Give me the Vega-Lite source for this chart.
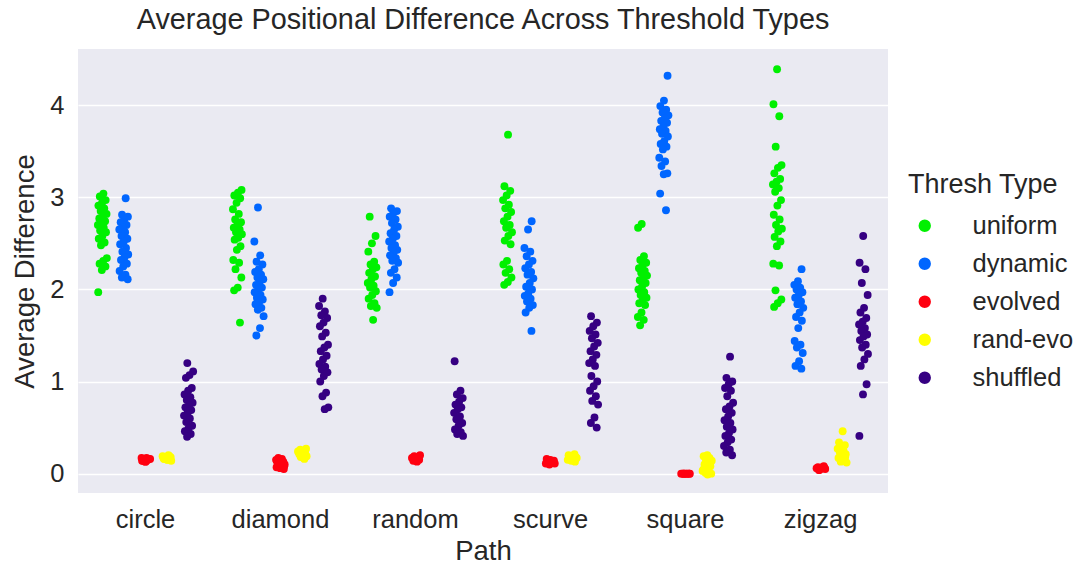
{
"$schema":"https://vega.github.io/schema/vega-lite/v6.json",
"autosize":"none",
"padding":{"left":78,"top":49,"right":192,"bottom":72},
"width":810,
"height":444,
"title":{"text":"Average Positional Difference Across Threshold Types","fontSize":28.8,"fontWeight":"normal","color":"#262626","offset":14,"anchor":"middle"},
"data":{"values":[
{"path":"circle","type":"uniform","diff":3.04},{"path":"circle","type":"uniform","diff":3.01},{"path":"circle","type":"uniform","diff":2.97},{"path":"circle","type":"uniform","diff":2.94},{"path":"circle","type":"uniform","diff":2.91},{"path":"circle","type":"uniform","diff":2.88},{"path":"circle","type":"uniform","diff":2.85},{"path":"circle","type":"uniform","diff":2.82},{"path":"circle","type":"uniform","diff":2.79},{"path":"circle","type":"uniform","diff":2.77},{"path":"circle","type":"uniform","diff":2.74},{"path":"circle","type":"uniform","diff":2.72},{"path":"circle","type":"uniform","diff":2.70},{"path":"circle","type":"uniform","diff":2.67},{"path":"circle","type":"uniform","diff":2.64},{"path":"circle","type":"uniform","diff":2.62},{"path":"circle","type":"uniform","diff":2.58},{"path":"circle","type":"uniform","diff":2.55},{"path":"circle","type":"uniform","diff":2.51},{"path":"circle","type":"uniform","diff":2.48},{"path":"circle","type":"uniform","diff":2.34},{"path":"circle","type":"uniform","diff":2.31},{"path":"circle","type":"uniform","diff":2.28},{"path":"circle","type":"uniform","diff":2.25},{"path":"circle","type":"uniform","diff":2.21},{"path":"circle","type":"uniform","diff":1.97},
{"path":"circle","type":"dynamic","diff":2.99},{"path":"circle","type":"dynamic","diff":2.81},{"path":"circle","type":"dynamic","diff":2.79},{"path":"circle","type":"dynamic","diff":2.76},{"path":"circle","type":"dynamic","diff":2.73},{"path":"circle","type":"dynamic","diff":2.70},{"path":"circle","type":"dynamic","diff":2.67},{"path":"circle","type":"dynamic","diff":2.65},{"path":"circle","type":"dynamic","diff":2.62},{"path":"circle","type":"dynamic","diff":2.58},{"path":"circle","type":"dynamic","diff":2.55},{"path":"circle","type":"dynamic","diff":2.52},{"path":"circle","type":"dynamic","diff":2.49},{"path":"circle","type":"dynamic","diff":2.45},{"path":"circle","type":"dynamic","diff":2.41},{"path":"circle","type":"dynamic","diff":2.38},{"path":"circle","type":"dynamic","diff":2.35},{"path":"circle","type":"dynamic","diff":2.32},{"path":"circle","type":"dynamic","diff":2.28},{"path":"circle","type":"dynamic","diff":2.25},{"path":"circle","type":"dynamic","diff":2.20},{"path":"circle","type":"dynamic","diff":2.16},{"path":"circle","type":"dynamic","diff":2.13},{"path":"circle","type":"dynamic","diff":2.11},
{"path":"circle","type":"evolved","diff":0.13},{"path":"circle","type":"evolved","diff":0.14},{"path":"circle","type":"evolved","diff":0.15},{"path":"circle","type":"evolved","diff":0.15},{"path":"circle","type":"evolved","diff":0.16},{"path":"circle","type":"evolved","diff":0.17},{"path":"circle","type":"evolved","diff":0.14},{"path":"circle","type":"evolved","diff":0.16},{"path":"circle","type":"evolved","diff":0.13},{"path":"circle","type":"evolved","diff":0.17},{"path":"circle","type":"evolved","diff":0.15},{"path":"circle","type":"evolved","diff":0.16},
{"path":"circle","type":"rand-evo","diff":0.14},{"path":"circle","type":"rand-evo","diff":0.15},{"path":"circle","type":"rand-evo","diff":0.16},{"path":"circle","type":"rand-evo","diff":0.17},{"path":"circle","type":"rand-evo","diff":0.18},{"path":"circle","type":"rand-evo","diff":0.19},{"path":"circle","type":"rand-evo","diff":0.20},{"path":"circle","type":"rand-evo","diff":0.16},{"path":"circle","type":"rand-evo","diff":0.18},{"path":"circle","type":"rand-evo","diff":0.15},{"path":"circle","type":"rand-evo","diff":0.17},{"path":"circle","type":"rand-evo","diff":0.19},
{"path":"circle","type":"shuffled","diff":1.20},{"path":"circle","type":"shuffled","diff":1.11},{"path":"circle","type":"shuffled","diff":1.07},{"path":"circle","type":"shuffled","diff":1.04},{"path":"circle","type":"shuffled","diff":0.93},{"path":"circle","type":"shuffled","diff":0.90},{"path":"circle","type":"shuffled","diff":0.86},{"path":"circle","type":"shuffled","diff":0.83},{"path":"circle","type":"shuffled","diff":0.80},{"path":"circle","type":"shuffled","diff":0.77},{"path":"circle","type":"shuffled","diff":0.74},{"path":"circle","type":"shuffled","diff":0.72},{"path":"circle","type":"shuffled","diff":0.69},{"path":"circle","type":"shuffled","diff":0.66},{"path":"circle","type":"shuffled","diff":0.63},{"path":"circle","type":"shuffled","diff":0.60},{"path":"circle","type":"shuffled","diff":0.56},{"path":"circle","type":"shuffled","diff":0.52},{"path":"circle","type":"shuffled","diff":0.49},{"path":"circle","type":"shuffled","diff":0.46},{"path":"circle","type":"shuffled","diff":0.43},{"path":"circle","type":"shuffled","diff":0.40},
{"path":"diamond","type":"uniform","diff":3.08},{"path":"diamond","type":"uniform","diff":3.05},{"path":"diamond","type":"uniform","diff":3.02},{"path":"diamond","type":"uniform","diff":2.99},{"path":"diamond","type":"uniform","diff":2.94},{"path":"diamond","type":"uniform","diff":2.87},{"path":"diamond","type":"uniform","diff":2.82},{"path":"diamond","type":"uniform","diff":2.76},{"path":"diamond","type":"uniform","diff":2.73},{"path":"diamond","type":"uniform","diff":2.70},{"path":"diamond","type":"uniform","diff":2.67},{"path":"diamond","type":"uniform","diff":2.65},{"path":"diamond","type":"uniform","diff":2.62},{"path":"diamond","type":"uniform","diff":2.60},{"path":"diamond","type":"uniform","diff":2.56},{"path":"diamond","type":"uniform","diff":2.54},{"path":"diamond","type":"uniform","diff":2.47},{"path":"diamond","type":"uniform","diff":2.43},{"path":"diamond","type":"uniform","diff":2.32},{"path":"diamond","type":"uniform","diff":2.29},{"path":"diamond","type":"uniform","diff":2.22},{"path":"diamond","type":"uniform","diff":2.13},{"path":"diamond","type":"uniform","diff":2.02},{"path":"diamond","type":"uniform","diff":1.99},{"path":"diamond","type":"uniform","diff":1.64},
{"path":"diamond","type":"dynamic","diff":2.89},{"path":"diamond","type":"dynamic","diff":2.52},{"path":"diamond","type":"dynamic","diff":2.37},{"path":"diamond","type":"dynamic","diff":2.30},{"path":"diamond","type":"dynamic","diff":2.27},{"path":"diamond","type":"dynamic","diff":2.22},{"path":"diamond","type":"dynamic","diff":2.19},{"path":"diamond","type":"dynamic","diff":2.16},{"path":"diamond","type":"dynamic","diff":2.13},{"path":"diamond","type":"dynamic","diff":2.11},{"path":"diamond","type":"dynamic","diff":2.08},{"path":"diamond","type":"dynamic","diff":2.05},{"path":"diamond","type":"dynamic","diff":2.02},{"path":"diamond","type":"dynamic","diff":2.00},{"path":"diamond","type":"dynamic","diff":1.97},{"path":"diamond","type":"dynamic","diff":1.94},{"path":"diamond","type":"dynamic","diff":1.91},{"path":"diamond","type":"dynamic","diff":1.89},{"path":"diamond","type":"dynamic","diff":1.86},{"path":"diamond","type":"dynamic","diff":1.84},{"path":"diamond","type":"dynamic","diff":1.80},{"path":"diamond","type":"dynamic","diff":1.78},{"path":"diamond","type":"dynamic","diff":1.71},{"path":"diamond","type":"dynamic","diff":1.58},{"path":"diamond","type":"dynamic","diff":1.50},
{"path":"diamond","type":"evolved","diff":0.05},{"path":"diamond","type":"evolved","diff":0.06},{"path":"diamond","type":"evolved","diff":0.07},{"path":"diamond","type":"evolved","diff":0.08},{"path":"diamond","type":"evolved","diff":0.09},{"path":"diamond","type":"evolved","diff":0.10},{"path":"diamond","type":"evolved","diff":0.11},{"path":"diamond","type":"evolved","diff":0.12},{"path":"diamond","type":"evolved","diff":0.13},{"path":"diamond","type":"evolved","diff":0.14},{"path":"diamond","type":"evolved","diff":0.15},{"path":"diamond","type":"evolved","diff":0.16},{"path":"diamond","type":"evolved","diff":0.17},{"path":"diamond","type":"evolved","diff":0.08},{"path":"diamond","type":"evolved","diff":0.11},{"path":"diamond","type":"evolved","diff":0.14},
{"path":"diamond","type":"rand-evo","diff":0.16},{"path":"diamond","type":"rand-evo","diff":0.18},{"path":"diamond","type":"rand-evo","diff":0.19},{"path":"diamond","type":"rand-evo","diff":0.20},{"path":"diamond","type":"rand-evo","diff":0.21},{"path":"diamond","type":"rand-evo","diff":0.22},{"path":"diamond","type":"rand-evo","diff":0.23},{"path":"diamond","type":"rand-evo","diff":0.24},{"path":"diamond","type":"rand-evo","diff":0.25},{"path":"diamond","type":"rand-evo","diff":0.26},{"path":"diamond","type":"rand-evo","diff":0.27},{"path":"diamond","type":"rand-evo","diff":0.20},{"path":"diamond","type":"rand-evo","diff":0.23},{"path":"diamond","type":"rand-evo","diff":0.18},
{"path":"diamond","type":"shuffled","diff":1.90},{"path":"diamond","type":"shuffled","diff":1.82},{"path":"diamond","type":"shuffled","diff":1.76},{"path":"diamond","type":"shuffled","diff":1.72},{"path":"diamond","type":"shuffled","diff":1.69},{"path":"diamond","type":"shuffled","diff":1.64},{"path":"diamond","type":"shuffled","diff":1.60},{"path":"diamond","type":"shuffled","diff":1.53},{"path":"diamond","type":"shuffled","diff":1.49},{"path":"diamond","type":"shuffled","diff":1.40},{"path":"diamond","type":"shuffled","diff":1.37},{"path":"diamond","type":"shuffled","diff":1.33},{"path":"diamond","type":"shuffled","diff":1.28},{"path":"diamond","type":"shuffled","diff":1.24},{"path":"diamond","type":"shuffled","diff":1.19},{"path":"diamond","type":"shuffled","diff":1.16},{"path":"diamond","type":"shuffled","diff":1.13},{"path":"diamond","type":"shuffled","diff":1.10},{"path":"diamond","type":"shuffled","diff":1.06},{"path":"diamond","type":"shuffled","diff":1.00},{"path":"diamond","type":"shuffled","diff":0.88},{"path":"diamond","type":"shuffled","diff":0.84},{"path":"diamond","type":"shuffled","diff":0.72},{"path":"diamond","type":"shuffled","diff":0.70},
{"path":"random","type":"uniform","diff":2.79},{"path":"random","type":"uniform","diff":2.58},{"path":"random","type":"uniform","diff":2.50},{"path":"random","type":"uniform","diff":2.41},{"path":"random","type":"uniform","diff":2.30},{"path":"random","type":"uniform","diff":2.27},{"path":"random","type":"uniform","diff":2.24},{"path":"random","type":"uniform","diff":2.22},{"path":"random","type":"uniform","diff":2.18},{"path":"random","type":"uniform","diff":2.14},{"path":"random","type":"uniform","diff":2.11},{"path":"random","type":"uniform","diff":2.07},{"path":"random","type":"uniform","diff":2.04},{"path":"random","type":"uniform","diff":2.02},{"path":"random","type":"uniform","diff":1.98},{"path":"random","type":"uniform","diff":1.94},{"path":"random","type":"uniform","diff":1.90},{"path":"random","type":"uniform","diff":1.85},{"path":"random","type":"uniform","diff":1.82},{"path":"random","type":"uniform","diff":1.80},{"path":"random","type":"uniform","diff":1.67},
{"path":"random","type":"dynamic","diff":2.88},{"path":"random","type":"dynamic","diff":2.85},{"path":"random","type":"dynamic","diff":2.83},{"path":"random","type":"dynamic","diff":2.79},{"path":"random","type":"dynamic","diff":2.76},{"path":"random","type":"dynamic","diff":2.72},{"path":"random","type":"dynamic","diff":2.68},{"path":"random","type":"dynamic","diff":2.65},{"path":"random","type":"dynamic","diff":2.61},{"path":"random","type":"dynamic","diff":2.58},{"path":"random","type":"dynamic","diff":2.55},{"path":"random","type":"dynamic","diff":2.52},{"path":"random","type":"dynamic","diff":2.48},{"path":"random","type":"dynamic","diff":2.45},{"path":"random","type":"dynamic","diff":2.43},{"path":"random","type":"dynamic","diff":2.40},{"path":"random","type":"dynamic","diff":2.37},{"path":"random","type":"dynamic","diff":2.34},{"path":"random","type":"dynamic","diff":2.31},{"path":"random","type":"dynamic","diff":2.29},{"path":"random","type":"dynamic","diff":2.22},{"path":"random","type":"dynamic","diff":2.18},{"path":"random","type":"dynamic","diff":2.13},{"path":"random","type":"dynamic","diff":2.07},{"path":"random","type":"dynamic","diff":1.97},
{"path":"random","type":"evolved","diff":0.13},{"path":"random","type":"evolved","diff":0.14},{"path":"random","type":"evolved","diff":0.15},{"path":"random","type":"evolved","diff":0.16},{"path":"random","type":"evolved","diff":0.17},{"path":"random","type":"evolved","diff":0.18},{"path":"random","type":"evolved","diff":0.19},{"path":"random","type":"evolved","diff":0.20},{"path":"random","type":"evolved","diff":0.15},{"path":"random","type":"evolved","diff":0.17},{"path":"random","type":"evolved","diff":0.18},{"path":"random","type":"evolved","diff":0.16},
{"path":"random","type":"shuffled","diff":1.22},{"path":"random","type":"shuffled","diff":0.90},{"path":"random","type":"shuffled","diff":0.86},{"path":"random","type":"shuffled","diff":0.82},{"path":"random","type":"shuffled","diff":0.78},{"path":"random","type":"shuffled","diff":0.75},{"path":"random","type":"shuffled","diff":0.72},{"path":"random","type":"shuffled","diff":0.70},{"path":"random","type":"shuffled","diff":0.66},{"path":"random","type":"shuffled","diff":0.62},{"path":"random","type":"shuffled","diff":0.59},{"path":"random","type":"shuffled","diff":0.55},{"path":"random","type":"shuffled","diff":0.52},{"path":"random","type":"shuffled","diff":0.48},{"path":"random","type":"shuffled","diff":0.45},{"path":"random","type":"shuffled","diff":0.43},{"path":"random","type":"shuffled","diff":0.41},
{"path":"scurve","type":"uniform","diff":3.68},{"path":"scurve","type":"uniform","diff":3.12},{"path":"scurve","type":"uniform","diff":3.07},{"path":"scurve","type":"uniform","diff":3.02},{"path":"scurve","type":"uniform","diff":2.97},{"path":"scurve","type":"uniform","diff":2.92},{"path":"scurve","type":"uniform","diff":2.88},{"path":"scurve","type":"uniform","diff":2.84},{"path":"scurve","type":"uniform","diff":2.79},{"path":"scurve","type":"uniform","diff":2.74},{"path":"scurve","type":"uniform","diff":2.70},{"path":"scurve","type":"uniform","diff":2.67},{"path":"scurve","type":"uniform","diff":2.62},{"path":"scurve","type":"uniform","diff":2.58},{"path":"scurve","type":"uniform","diff":2.53},{"path":"scurve","type":"uniform","diff":2.49},{"path":"scurve","type":"uniform","diff":2.31},{"path":"scurve","type":"uniform","diff":2.27},{"path":"scurve","type":"uniform","diff":2.22},{"path":"scurve","type":"uniform","diff":2.18},{"path":"scurve","type":"uniform","diff":2.13},{"path":"scurve","type":"uniform","diff":2.08},{"path":"scurve","type":"uniform","diff":2.05},
{"path":"scurve","type":"dynamic","diff":2.74},{"path":"scurve","type":"dynamic","diff":2.65},{"path":"scurve","type":"dynamic","diff":2.45},{"path":"scurve","type":"dynamic","diff":2.41},{"path":"scurve","type":"dynamic","diff":2.36},{"path":"scurve","type":"dynamic","diff":2.31},{"path":"scurve","type":"dynamic","diff":2.27},{"path":"scurve","type":"dynamic","diff":2.23},{"path":"scurve","type":"dynamic","diff":2.19},{"path":"scurve","type":"dynamic","diff":2.16},{"path":"scurve","type":"dynamic","diff":2.12},{"path":"scurve","type":"dynamic","diff":2.07},{"path":"scurve","type":"dynamic","diff":2.03},{"path":"scurve","type":"dynamic","diff":2.00},{"path":"scurve","type":"dynamic","diff":1.96},{"path":"scurve","type":"dynamic","diff":1.93},{"path":"scurve","type":"dynamic","diff":1.90},{"path":"scurve","type":"dynamic","diff":1.87},{"path":"scurve","type":"dynamic","diff":1.83},{"path":"scurve","type":"dynamic","diff":1.80},{"path":"scurve","type":"dynamic","diff":1.75},{"path":"scurve","type":"dynamic","diff":1.55},
{"path":"scurve","type":"evolved","diff":0.10},{"path":"scurve","type":"evolved","diff":0.11},{"path":"scurve","type":"evolved","diff":0.12},{"path":"scurve","type":"evolved","diff":0.13},{"path":"scurve","type":"evolved","diff":0.14},{"path":"scurve","type":"evolved","diff":0.15},{"path":"scurve","type":"evolved","diff":0.16},{"path":"scurve","type":"evolved","diff":0.12},{"path":"scurve","type":"evolved","diff":0.13},{"path":"scurve","type":"evolved","diff":0.11},{"path":"scurve","type":"evolved","diff":0.14},{"path":"scurve","type":"evolved","diff":0.13},
{"path":"scurve","type":"rand-evo","diff":0.13},{"path":"scurve","type":"rand-evo","diff":0.14},{"path":"scurve","type":"rand-evo","diff":0.15},{"path":"scurve","type":"rand-evo","diff":0.16},{"path":"scurve","type":"rand-evo","diff":0.17},{"path":"scurve","type":"rand-evo","diff":0.18},{"path":"scurve","type":"rand-evo","diff":0.19},{"path":"scurve","type":"rand-evo","diff":0.20},{"path":"scurve","type":"rand-evo","diff":0.21},{"path":"scurve","type":"rand-evo","diff":0.15},{"path":"scurve","type":"rand-evo","diff":0.17},{"path":"scurve","type":"rand-evo","diff":0.19},
{"path":"scurve","type":"shuffled","diff":1.71},{"path":"scurve","type":"shuffled","diff":1.64},{"path":"scurve","type":"shuffled","diff":1.60},{"path":"scurve","type":"shuffled","diff":1.55},{"path":"scurve","type":"shuffled","diff":1.51},{"path":"scurve","type":"shuffled","diff":1.47},{"path":"scurve","type":"shuffled","diff":1.42},{"path":"scurve","type":"shuffled","diff":1.38},{"path":"scurve","type":"shuffled","diff":1.33},{"path":"scurve","type":"shuffled","diff":1.29},{"path":"scurve","type":"shuffled","diff":1.24},{"path":"scurve","type":"shuffled","diff":1.20},{"path":"scurve","type":"shuffled","diff":1.17},{"path":"scurve","type":"shuffled","diff":1.06},{"path":"scurve","type":"shuffled","diff":1.00},{"path":"scurve","type":"shuffled","diff":0.95},{"path":"scurve","type":"shuffled","diff":0.90},{"path":"scurve","type":"shuffled","diff":0.84},{"path":"scurve","type":"shuffled","diff":0.79},{"path":"scurve","type":"shuffled","diff":0.75},{"path":"scurve","type":"shuffled","diff":0.61},{"path":"scurve","type":"shuffled","diff":0.55},{"path":"scurve","type":"shuffled","diff":0.50},
{"path":"square","type":"uniform","diff":2.71},{"path":"square","type":"uniform","diff":2.67},{"path":"square","type":"uniform","diff":2.36},{"path":"square","type":"uniform","diff":2.32},{"path":"square","type":"uniform","diff":2.29},{"path":"square","type":"uniform","diff":2.26},{"path":"square","type":"uniform","diff":2.23},{"path":"square","type":"uniform","diff":2.20},{"path":"square","type":"uniform","diff":2.18},{"path":"square","type":"uniform","diff":2.15},{"path":"square","type":"uniform","diff":2.13},{"path":"square","type":"uniform","diff":2.10},{"path":"square","type":"uniform","diff":2.07},{"path":"square","type":"uniform","diff":2.03},{"path":"square","type":"uniform","diff":2.00},{"path":"square","type":"uniform","diff":1.97},{"path":"square","type":"uniform","diff":1.94},{"path":"square","type":"uniform","diff":1.91},{"path":"square","type":"uniform","diff":1.89},{"path":"square","type":"uniform","diff":1.85},{"path":"square","type":"uniform","diff":1.83},{"path":"square","type":"uniform","diff":1.75},{"path":"square","type":"uniform","diff":1.70},{"path":"square","type":"uniform","diff":1.67},{"path":"square","type":"uniform","diff":1.61},
{"path":"square","type":"dynamic","diff":4.32},{"path":"square","type":"dynamic","diff":4.05},{"path":"square","type":"dynamic","diff":3.99},{"path":"square","type":"dynamic","diff":3.95},{"path":"square","type":"dynamic","diff":3.92},{"path":"square","type":"dynamic","diff":3.89},{"path":"square","type":"dynamic","diff":3.86},{"path":"square","type":"dynamic","diff":3.83},{"path":"square","type":"dynamic","diff":3.81},{"path":"square","type":"dynamic","diff":3.77},{"path":"square","type":"dynamic","diff":3.74},{"path":"square","type":"dynamic","diff":3.72},{"path":"square","type":"dynamic","diff":3.69},{"path":"square","type":"dynamic","diff":3.66},{"path":"square","type":"dynamic","diff":3.61},{"path":"square","type":"dynamic","diff":3.58},{"path":"square","type":"dynamic","diff":3.55},{"path":"square","type":"dynamic","diff":3.52},{"path":"square","type":"dynamic","diff":3.43},{"path":"square","type":"dynamic","diff":3.39},{"path":"square","type":"dynamic","diff":3.34},{"path":"square","type":"dynamic","diff":3.26},{"path":"square","type":"dynamic","diff":3.25},{"path":"square","type":"dynamic","diff":3.04},{"path":"square","type":"dynamic","diff":2.86},
{"path":"square","type":"evolved","diff":0.0},{"path":"square","type":"evolved","diff":0.0},{"path":"square","type":"evolved","diff":0.0},{"path":"square","type":"evolved","diff":0.0},{"path":"square","type":"evolved","diff":0.0},{"path":"square","type":"evolved","diff":0.0},{"path":"square","type":"evolved","diff":0.0},{"path":"square","type":"evolved","diff":0.0},{"path":"square","type":"evolved","diff":0.0},{"path":"square","type":"evolved","diff":0.0},
{"path":"square","type":"rand-evo","diff":0.20},{"path":"square","type":"rand-evo","diff":0.19},{"path":"square","type":"rand-evo","diff":0.17},{"path":"square","type":"rand-evo","diff":0.16},{"path":"square","type":"rand-evo","diff":0.14},{"path":"square","type":"rand-evo","diff":0.12},{"path":"square","type":"rand-evo","diff":0.10},{"path":"square","type":"rand-evo","diff":0.08},{"path":"square","type":"rand-evo","diff":0.06},{"path":"square","type":"rand-evo","diff":0.04},{"path":"square","type":"rand-evo","diff":0.02},{"path":"square","type":"rand-evo","diff":0.01},{"path":"square","type":"rand-evo","diff":0.0},{"path":"square","type":"rand-evo","diff":-0.01},{"path":"square","type":"rand-evo","diff":0.05},{"path":"square","type":"rand-evo","diff":0.11},{"path":"square","type":"rand-evo","diff":0.15},{"path":"square","type":"rand-evo","diff":0.03},
{"path":"square","type":"shuffled","diff":1.27},{"path":"square","type":"shuffled","diff":1.04},{"path":"square","type":"shuffled","diff":1.00},{"path":"square","type":"shuffled","diff":0.97},{"path":"square","type":"shuffled","diff":0.93},{"path":"square","type":"shuffled","diff":0.90},{"path":"square","type":"shuffled","diff":0.84},{"path":"square","type":"shuffled","diff":0.77},{"path":"square","type":"shuffled","diff":0.73},{"path":"square","type":"shuffled","diff":0.70},{"path":"square","type":"shuffled","diff":0.66},{"path":"square","type":"shuffled","diff":0.62},{"path":"square","type":"shuffled","diff":0.58},{"path":"square","type":"shuffled","diff":0.55},{"path":"square","type":"shuffled","diff":0.51},{"path":"square","type":"shuffled","diff":0.48},{"path":"square","type":"shuffled","diff":0.44},{"path":"square","type":"shuffled","diff":0.41},{"path":"square","type":"shuffled","diff":0.37},{"path":"square","type":"shuffled","diff":0.34},{"path":"square","type":"shuffled","diff":0.30},{"path":"square","type":"shuffled","diff":0.26},{"path":"square","type":"shuffled","diff":0.23},{"path":"square","type":"shuffled","diff":0.20},
{"path":"zigzag","type":"uniform","diff":4.39},{"path":"zigzag","type":"uniform","diff":4.01},{"path":"zigzag","type":"uniform","diff":3.88},{"path":"zigzag","type":"uniform","diff":3.55},{"path":"zigzag","type":"uniform","diff":3.35},{"path":"zigzag","type":"uniform","diff":3.32},{"path":"zigzag","type":"uniform","diff":3.26},{"path":"zigzag","type":"uniform","diff":3.20},{"path":"zigzag","type":"uniform","diff":3.17},{"path":"zigzag","type":"uniform","diff":3.14},{"path":"zigzag","type":"uniform","diff":3.10},{"path":"zigzag","type":"uniform","diff":3.06},{"path":"zigzag","type":"uniform","diff":2.97},{"path":"zigzag","type":"uniform","diff":2.91},{"path":"zigzag","type":"uniform","diff":2.81},{"path":"zigzag","type":"uniform","diff":2.76},{"path":"zigzag","type":"uniform","diff":2.70},{"path":"zigzag","type":"uniform","diff":2.66},{"path":"zigzag","type":"uniform","diff":2.63},{"path":"zigzag","type":"uniform","diff":2.57},{"path":"zigzag","type":"uniform","diff":2.52},{"path":"zigzag","type":"uniform","diff":2.47},{"path":"zigzag","type":"uniform","diff":2.28},{"path":"zigzag","type":"uniform","diff":2.26},{"path":"zigzag","type":"uniform","diff":1.99},{"path":"zigzag","type":"uniform","diff":1.89},{"path":"zigzag","type":"uniform","diff":1.85},{"path":"zigzag","type":"uniform","diff":1.81},
{"path":"zigzag","type":"dynamic","diff":2.22},{"path":"zigzag","type":"dynamic","diff":2.09},{"path":"zigzag","type":"dynamic","diff":2.05},{"path":"zigzag","type":"dynamic","diff":2.02},{"path":"zigzag","type":"dynamic","diff":2.00},{"path":"zigzag","type":"dynamic","diff":1.97},{"path":"zigzag","type":"dynamic","diff":1.94},{"path":"zigzag","type":"dynamic","diff":1.91},{"path":"zigzag","type":"dynamic","diff":1.87},{"path":"zigzag","type":"dynamic","diff":1.84},{"path":"zigzag","type":"dynamic","diff":1.80},{"path":"zigzag","type":"dynamic","diff":1.75},{"path":"zigzag","type":"dynamic","diff":1.70},{"path":"zigzag","type":"dynamic","diff":1.66},{"path":"zigzag","type":"dynamic","diff":1.58},{"path":"zigzag","type":"dynamic","diff":1.44},{"path":"zigzag","type":"dynamic","diff":1.40},{"path":"zigzag","type":"dynamic","diff":1.37},{"path":"zigzag","type":"dynamic","diff":1.31},{"path":"zigzag","type":"dynamic","diff":1.22},{"path":"zigzag","type":"dynamic","diff":1.17},{"path":"zigzag","type":"dynamic","diff":1.14},
{"path":"zigzag","type":"evolved","diff":0.04},{"path":"zigzag","type":"evolved","diff":0.05},{"path":"zigzag","type":"evolved","diff":0.06},{"path":"zigzag","type":"evolved","diff":0.07},{"path":"zigzag","type":"evolved","diff":0.08},{"path":"zigzag","type":"evolved","diff":0.05},{"path":"zigzag","type":"evolved","diff":0.06},{"path":"zigzag","type":"evolved","diff":0.07},{"path":"zigzag","type":"evolved","diff":0.04},{"path":"zigzag","type":"evolved","diff":0.06},
{"path":"zigzag","type":"rand-evo","diff":0.46},{"path":"zigzag","type":"rand-evo","diff":0.34},{"path":"zigzag","type":"rand-evo","diff":0.31},{"path":"zigzag","type":"rand-evo","diff":0.29},{"path":"zigzag","type":"rand-evo","diff":0.27},{"path":"zigzag","type":"rand-evo","diff":0.25},{"path":"zigzag","type":"rand-evo","diff":0.23},{"path":"zigzag","type":"rand-evo","diff":0.21},{"path":"zigzag","type":"rand-evo","diff":0.19},{"path":"zigzag","type":"rand-evo","diff":0.17},{"path":"zigzag","type":"rand-evo","diff":0.15},{"path":"zigzag","type":"rand-evo","diff":0.13},{"path":"zigzag","type":"rand-evo","diff":0.12},{"path":"zigzag","type":"rand-evo","diff":0.22},{"path":"zigzag","type":"rand-evo","diff":0.28},{"path":"zigzag","type":"rand-evo","diff":0.18},
{"path":"zigzag","type":"shuffled","diff":2.58},{"path":"zigzag","type":"shuffled","diff":2.29},{"path":"zigzag","type":"shuffled","diff":2.22},{"path":"zigzag","type":"shuffled","diff":2.07},{"path":"zigzag","type":"shuffled","diff":1.94},{"path":"zigzag","type":"shuffled","diff":1.80},{"path":"zigzag","type":"shuffled","diff":1.75},{"path":"zigzag","type":"shuffled","diff":1.69},{"path":"zigzag","type":"shuffled","diff":1.65},{"path":"zigzag","type":"shuffled","diff":1.62},{"path":"zigzag","type":"shuffled","diff":1.58},{"path":"zigzag","type":"shuffled","diff":1.55},{"path":"zigzag","type":"shuffled","diff":1.51},{"path":"zigzag","type":"shuffled","diff":1.49},{"path":"zigzag","type":"shuffled","diff":1.45},{"path":"zigzag","type":"shuffled","diff":1.40},{"path":"zigzag","type":"shuffled","diff":1.37},{"path":"zigzag","type":"shuffled","diff":1.30},{"path":"zigzag","type":"shuffled","diff":1.24},{"path":"zigzag","type":"shuffled","diff":1.17},{"path":"zigzag","type":"shuffled","diff":0.97},{"path":"zigzag","type":"shuffled","diff":0.86},{"path":"zigzag","type":"shuffled","diff":0.41}
]},
"transform":[
{"window":[{"op":"row_number","as":"i"}]},
{"calculate":"0.5 + (indexof(['uniform','dynamic','evolved','rand-evo','shuffled'], datum.type) - 2) * 0.16 + ((datum.i * 0.618034) % 1 - 0.5) * 0.07","as":"off"}
],
"mark":{"type":"circle","size":62,"opacity":1},
"encoding":{
"x":{"field":"path","type":"nominal","title":"Path","sort":["circle","diamond","random","scurve","square","zigzag"],"scale":{"paddingInner":0,"paddingOuter":0}},
"xOffset":{"field":"off","type":"quantitative","scale":{"domain":[0,1],"range":[0,135]}},
"y":{"field":"diff","type":"quantitative","title":"Average Difference","scale":{"domain":[-0.21,4.61],"nice":false,"zero":false},"axis":{"values":[0,1,2,3,4]}},
"color":{"field":"type","type":"nominal","title":"Thresh Type","scale":{"domain":["uniform","dynamic","evolved","rand-evo","shuffled"],"range":["#00f000","#0066ff","#ff0010","#ffff00","#360082"]}}
},
"config":{
"font":"Liberation Sans",
"view":{"fill":"#EAEAF2","stroke":null},
"axis":{"domain":false,"ticks":false,"labelFontSize":25.5,"labelColor":"#262626","titleFontSize":27.5,"titleColor":"#262626","titleFontWeight":"normal","gridColor":"#ffffff","gridWidth":1.5},
"axisX":{"grid":false,"labelAngle":0,"labelPadding":14,"titlePadding":5},
"axisY":{"grid":true,"labelPadding":14,"titlePadding":10},
"legend":{"orient":"none","legendX":830,"legendY":123,"padding":0,"titleFontSize":27,"titleFontWeight":"normal","titleColor":"#262626","labelFontSize":25.5,"labelColor":"#262626","symbolType":"circle","symbolSize":154,"symbolStrokeWidth":0,"symbolOpacity":1,"symbolOffset":4,"labelOffset":35,"rowPadding":11,"titlePadding":14}
}
}
